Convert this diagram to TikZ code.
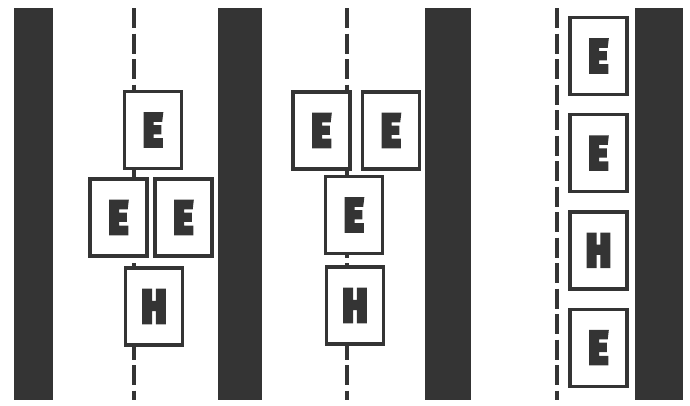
\documentclass[tikz,border=0pt]{standalone}
\usepackage{fontspec}
\newfontfamily\letterfont[FakeBold=6]{Fira Sans Black}
\usetikzlibrary{positioning}
\definecolor{ink}{RGB}{52,52,52}
\newcommand{\slimletter}[1]{\scalebox{0.8}[1]{#1}}

\begin{document}
\begin{tikzpicture}[
				x=1pt, y=-1pt,
				node distance=17pt,
				wall/.style={fill=ink, draw=none},
				midline/.style={draw=ink, line width=4.5pt, dash pattern=on 20pt off 5.5pt},
				every node/.style={
					rectangle, draw=ink, fill=white, line width=3.2pt,
					inner sep=0pt, minimum width=57pt, minimum height=77pt,
					text=ink, font=\letterfont\fontsize{47}{47}\selectfont
				}
				]
				\useasboundingbox (0,0) rectangle (690,405);
				
				% Tường: hai bên ống 1, bên phải ống 2 và 3
				\fill[wall] (14,8) rectangle (53,400);
				\fill[wall] (218,8) rectangle (262,400);
				\fill[wall] (425,8) rectangle (471,400);
				\fill[wall] (635,8) rectangle (683,400);
				
				% Đường giữa (nét đứt)
				\coordinate (top1) at (134,8);
				\coordinate (bot1) at (134,400);
				\coordinate (top2) at (347,8);
				\coordinate (bot2) at (347,400);
				\coordinate (top3) at (557,8);
				\coordinate (bot3) at (557,400);
				\draw[midline] (top1) -- (bot1);
				\draw[midline] (top2) -- (bot2);
				\draw[midline] (top3) -- (bot3);
				
				% Ống 1
				\node (e1t) at (153,130) {\slimletter{E}};
				\node (e1l) at (118.5,217.5) {\slimletter{E}};
				\node (e1r) at (183.5,217.5) {\slimletter{E}};
				\node (h1) at (154,306.5) {\slimletter{H}};
				
				% Ống 2
				\node (e2l) at (321.5,130.5) {\slimletter{E}};
				\node (e2r) at (391,130.5) {\slimletter{E}};
				\node (e2m) at (354,215) {\slimletter{E}};
				\node (h2) at (355,305.5) {\slimletter{H}};
				
				% Ống 3: xếp sát tường
				\node (e3a) at (598.5,56) {\slimletter{E}};
				\node (e3b) [below=of e3a] {\slimletter{E}};
				\node (h3) [below=of e3b] {\slimletter{H}};
				\node (e3c) [below=of h3] {\slimletter{E}};
				
			\end{tikzpicture}
\end{document}
